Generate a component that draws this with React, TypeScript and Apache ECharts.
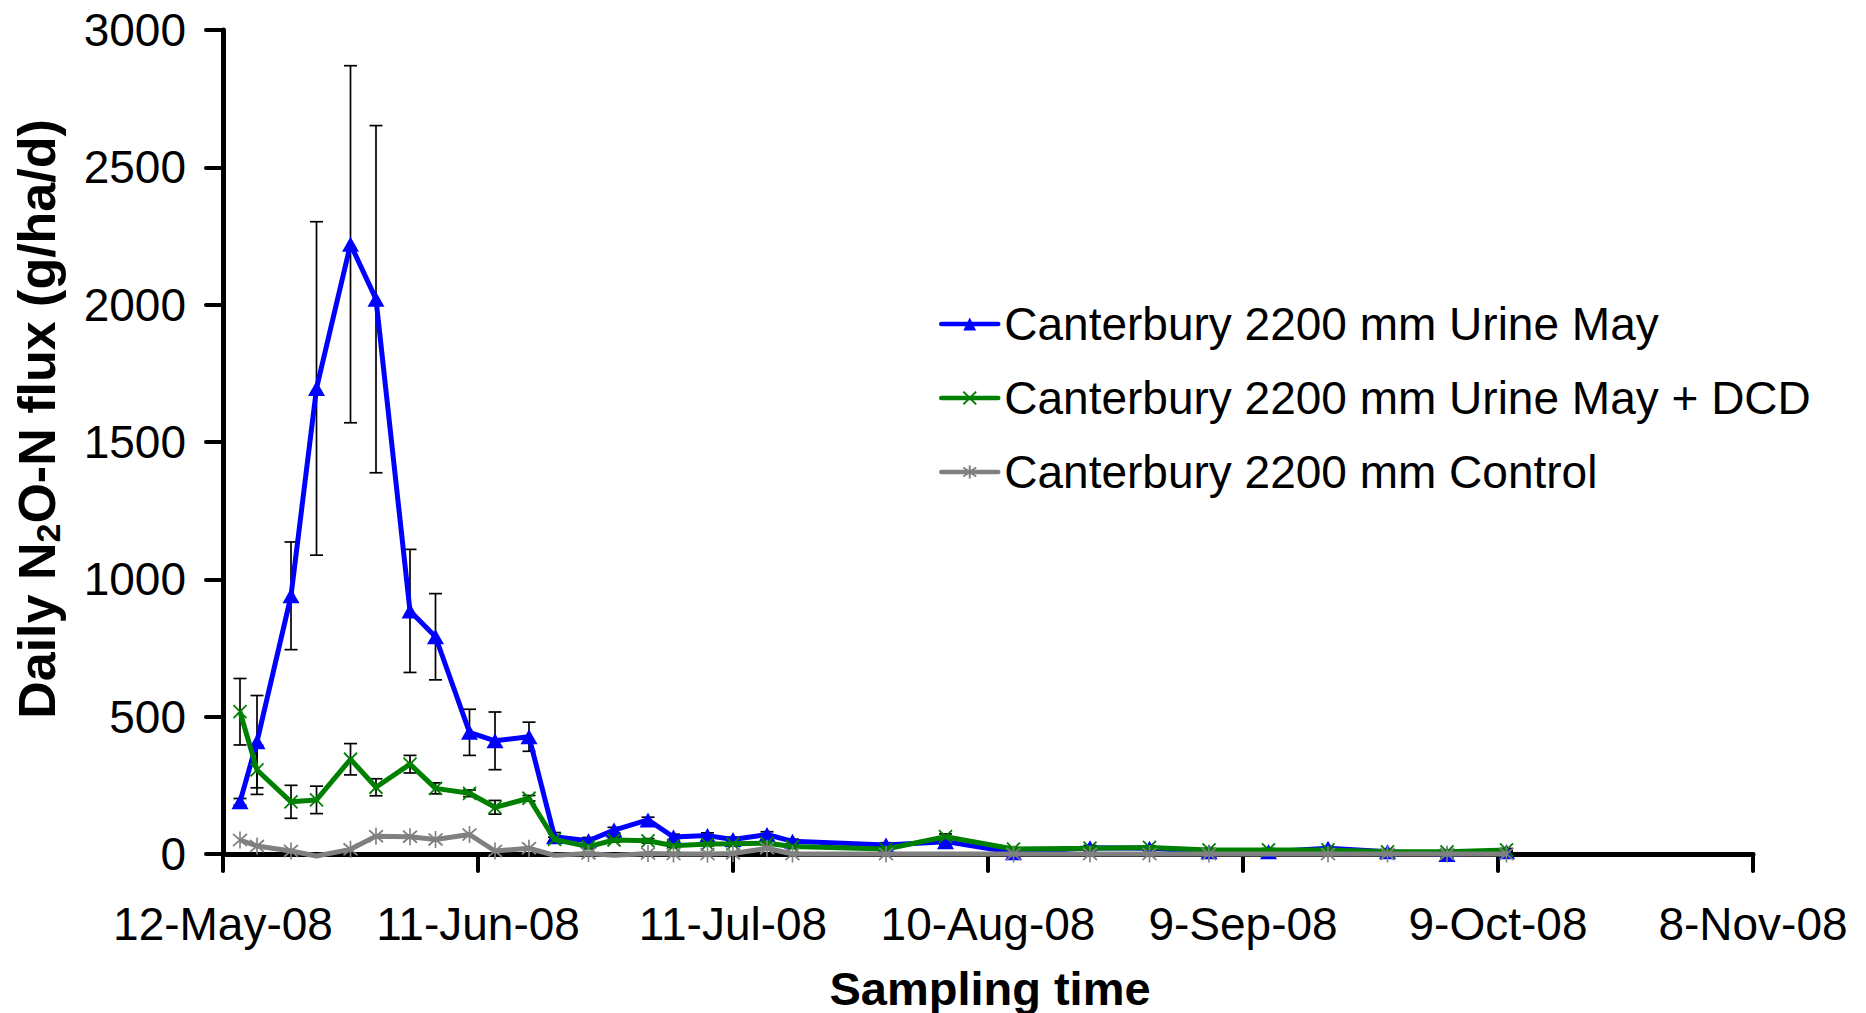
import React, { useEffect, useRef } from "react";
import * as echarts from "echarts";

// x values: days after 12-May-08
const xTickLabels = ["12-May-08", "11-Jun-08", "11-Jul-08", "10-Aug-08", "9-Sep-08", "9-Oct-08", "8-Nov-08"];
const seriesNames = [
  "Canterbury 2200 mm Urine May",
  "Canterbury 2200 mm Urine May + DCD",
  "Canterbury 2200 mm Control",
];
const sampleDays = [2, 4, 8, 11, 15, 18, 22, 25, 29, 32, 36, 39, 43, 46, 50, 53, 57, 60, 64, 67, 78, 85, 93, 102, 109, 116, 123, 130, 137, 144, 151];
const urine = [190, 409, 940, 1695, 2220, 2020, 885, 791, 443, 412, 427, 63, 48, 87, 124, 62, 67, 53, 71, 46, 33, 45, 5, 23, 21, 8, 8, 21, 8, -2, 8];
const urineErr = [12, 168, 196, 607, 650, 632, 224, 157, 84, 105, 53, 15, 12, 10, 10, 10, 10, 8, 10, 8, 8, 10, 5, 8, 8, 5, 5, 5, 5, 5, 5];
const dcd = [518, 306, 190, 197, 345, 243, 327, 239, 221, 170, 203, 53, 27, 51, 48, 30, 36, 37, 39, 27, 18, 63, 18, 21, 24, 15, 15, 15, 8, 8, 15];
const dcdErr = [121, 89, 60, 50, 57, 31, 32, 20, 12, 25, 10, 8, 8, 8, 8, 6, 6, 6, 6, 6, 5, 10, 5, 5, 5, 5, 5, 5, 5, 5, 5];
const control = [51, 29, 11, -7, 17, 65, 63, 53, 71, 11, 21, -5, 2, -5, 2, 0, 0, 2, 21, 0, 0, 0, 0, 0, 0, 0, 0, 0, 0, 0, 0];
const controlNoMarkerDays = [11, 39, 46, 85, 123];

const FONT = "'Liberation Sans', Arial, Helvetica, sans-serif";
const BLUE = "#0000ff";
const GREEN = "#008000";
const GREY = "#808080";
const X_SYMBOL = "path://M0,0L10,10M10,0L0,10";
const STAR_SYMBOL = "path://M1.5,1.5L8.5,8.5M8.5,1.5L1.5,8.5M5,0L5,10";

function errorSeries(values: number[], errs: number[]) {
  return {
    type: "custom",
    silent: true,
    z: 1,
    clip: false,
    data: sampleDays.map((d, i) => [d, values[i] - errs[i], values[i] + errs[i]]),
    encode: { x: 0, y: [1, 2] },
    renderItem: (params: any, api: any) => {
      const x = api.value(0);
      const lo = api.coord([x, api.value(1)]);
      const hi = api.coord([x, api.value(2)]);
      const w = 6.5;
      const st = { stroke: "#000", lineWidth: 1.7 };
      return {
        type: "group",
        children: [
          { type: "line", shape: { x1: lo[0], y1: lo[1], x2: hi[0], y2: hi[1] }, style: st },
          { type: "line", shape: { x1: lo[0] - w, y1: lo[1], x2: lo[0] + w, y2: lo[1] }, style: st },
          { type: "line", shape: { x1: hi[0] - w, y1: hi[1], x2: hi[0] + w, y2: hi[1] }, style: st },
        ],
      };
    },
  };
}

export default function App() {
  const ref = useRef<HTMLDivElement>(null);
  useEffect(() => {
    if (!ref.current) return;
    const chart = echarts.init(ref.current, undefined, { renderer: "svg" });
    chart.setOption({
      animation: false,
      backgroundColor: "#fff",
      grid: { left: 223, top: 30, width: 1530, height: 824, containLabel: false },
      xAxis: {
        type: "value",
        min: 0,
        max: 180,
        interval: 30,
        axisLine: { show: true, lineStyle: { color: "#000", width: 5, cap: "round" } },
        axisTick: { show: true, inside: false, length: 17, lineStyle: { color: "#000", width: 4, cap: "round" } },
        splitLine: { show: false },
        axisLabel: {
          margin: 47,
          fontSize: 46,
          fontFamily: FONT,
          color: "#000",
          formatter: (v: number) => xTickLabels[Math.round(v / 30)] ?? "",
        },
      },
      yAxis: {
        type: "value",
        min: 0,
        max: 3000,
        interval: 500,
        axisLine: { show: true, lineStyle: { color: "#000", width: 5, cap: "round" } },
        axisTick: { show: true, inside: false, length: 17, lineStyle: { color: "#000", width: 4, cap: "round" } },
        splitLine: { show: false },
        axisLabel: { margin: 37, fontSize: 46, fontFamily: FONT, color: "#000", formatter: (v: number) => String(v) },
      },
      legend: {
        orient: "vertical",
        left: 934,
        top: 292,
        itemWidth: 57,
        itemHeight: 16,
        itemGap: 20,
        selectedMode: false,
        data: seriesNames,
        lineStyle: { width: 4.5, cap: "round" },
        textStyle: { fontSize: 46, fontFamily: FONT, color: "#000", lineHeight: 54, padding: [0, 0, 0, 1] },
      },
      graphic: [
        {
          type: "text",
          x: 37,
          y: 419,
          rotation: Math.PI / 2,
          style: {
            text: "{a|Daily N}{s|2}{a|O-N flux (g/ha/d)}",
            align: "center",
            verticalAlign: "middle",
            rich: {
              a: { fontSize: 52, fontWeight: "bold", fontFamily: FONT, fill: "#000", lineHeight: 56 },
              s: { fontSize: 34, fontWeight: "bold", fontFamily: FONT, fill: "#000", verticalAlign: "bottom", lineHeight: 40 },
            },
          },
        },
        {
          type: "text",
          x: 990,
          y: 988,
          style: {
            text: "Sampling time",
            align: "center",
            verticalAlign: "middle",
            fontSize: 47,
            fontWeight: "bold",
            fontFamily: FONT,
            fill: "#000",
          },
        },
      ],
      series: [
        errorSeries(urine, urineErr),
        errorSeries(dcd, dcdErr),
        {
          name: seriesNames[0],
          type: "line",
          z: 2,
          clip: false,
          data: sampleDays.map((d, i) => [d, urine[i]]),
          symbol: "triangle",
          symbolSize: [17, 15],
          lineStyle: { color: BLUE, width: 5 },
          itemStyle: { color: BLUE, borderWidth: 0 },
          emphasis: { disabled: true },
        },
        {
          name: seriesNames[1],
          type: "line",
          z: 3,
          clip: false,
          data: sampleDays.map((d, i) => [d, dcd[i]]),
          symbol: X_SYMBOL,
          symbolSize: [13, 13],
          lineStyle: { color: GREEN, width: 5 },
          itemStyle: { color: GREEN, borderColor: GREEN, borderWidth: 1.8 },
          emphasis: { disabled: true },
        },
        {
          name: seriesNames[2],
          type: "line",
          z: 4,
          clip: false,
          data: sampleDays.map((d, i) =>
            controlNoMarkerDays.includes(d) ? { value: [d, control[i]], symbol: "none" } : [d, control[i]]
          ),
          symbol: STAR_SYMBOL,
          symbolSize: [14, 17],
          lineStyle: { color: GREY, width: 5 },
          itemStyle: { color: GREY, borderColor: GREY, borderWidth: 1.8 },
          emphasis: { disabled: true },
        },
      ],
    });
    return () => chart.dispose();
  }, []);
  return (
    <div
      ref={ref}
      style={{ position: "absolute", left: 0, top: 0, width: 1866, height: 1013, background: "#fff" }}
    />
  );
}
